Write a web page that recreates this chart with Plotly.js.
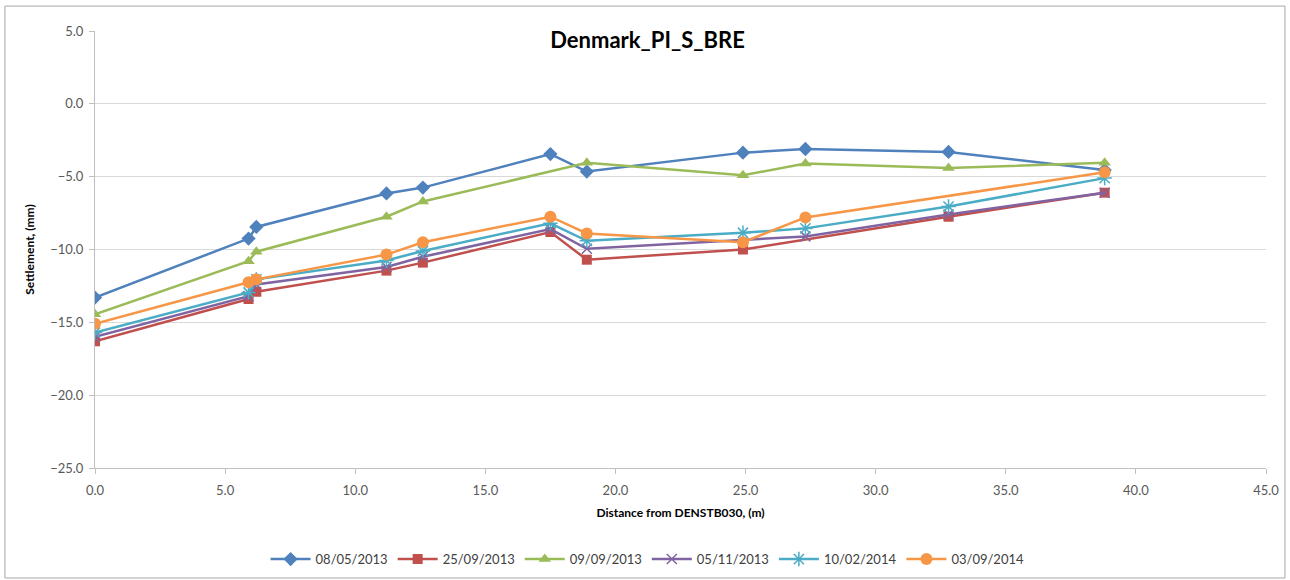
<!DOCTYPE html>
<html>
<head>
<meta charset="utf-8">
<script src="https://cdn.plot.ly/plotly-3.0.1.min.js"></script>
<style>html,body{margin:0;padding:0;background:#fff}#chart{width:1290px;height:580px}</style>
</head>
<body>
<div id="chart"></div>
<script>
const seriesNames = ["08/05/2013", "25/09/2013", "09/09/2013", "05/11/2013", "10/02/2014", "03/09/2014"];

const x_0805_2013 = [0.0, 5.9, 6.2, 11.2, 12.6, 17.5, 18.9, 24.9, 27.3, 32.8, 38.8];
const y_0805_2013 = [-13.3, -9.25, -8.45, -6.15, -5.75, -3.45, -4.65, -3.35, -3.1, -3.3, -4.55];

const x_2509_2013 = [0.0, 5.9, 6.2, 11.2, 12.6, 17.5, 18.9, 24.9, 32.8, 38.8];
const y_2509_2013 = [-16.3, -13.4, -12.9, -11.45, -10.9, -8.8, -10.7, -10.0, -7.75, -6.1];

const x_0909_2013 = [0.0, 5.9, 6.2, 11.2, 12.6, 18.9, 24.9, 27.3, 32.8, 38.8];
const y_0909_2013 = [-14.45, -10.8, -10.15, -7.75, -6.7, -4.05, -4.9, -4.1, -4.4, -4.05];

const x_0511_2013 = [0.0, 5.9, 6.2, 11.2, 12.6, 17.5, 18.9, 27.3, 32.8, 38.8];
const y_0511_2013 = [-16.0, -13.2, -12.4, -11.2, -10.5, -8.6, -9.95, -9.1, -7.6, -6.1];

const x_1002_2014 = [0.0, 5.9, 6.2, 11.2, 12.6, 17.5, 18.9, 24.9, 27.3, 32.8, 38.8];
const y_1002_2014 = [-15.7, -12.95, -12.05, -10.75, -10.1, -8.2, -9.4, -8.85, -8.55, -7.05, -5.1];

const x_0309_2014 = [0.0, 5.9, 6.2, 11.2, 12.6, 17.5, 18.9, 24.9, 27.3, 38.8];
const y_0309_2014 = [-15.1, -12.25, -12.05, -10.35, -9.5, -7.75, -8.9, -9.5, -7.8, -4.7];

const xs = [x_0805_2013, x_2509_2013, x_0909_2013, x_0511_2013, x_1002_2014, x_0309_2014];
const ys = [y_0805_2013, y_2509_2013, y_0909_2013, y_0511_2013, y_1002_2014, y_0309_2014];

const colors = ["#4F81BD", "#C0504D", "#9BBB59", "#8064A2", "#4BACC6", "#F79646"];
const symbols = ["diamond", "square", "triangle-up", "x-thin-open", "asterisk-open", "circle"];
const sizes = [11, 10, 11, 10, 12, 12];

const traces = seriesNames.map((name, i) => ({
  type: "scatter",
  mode: "lines+markers",
  name: name,
  x: xs[i],
  y: ys[i],
  line: {color: colors[i], width: 2.5},
  marker: {symbol: symbols[i], size: sizes[i], color: colors[i],
           line: {color: colors[i], width: (symbols[i].indexOf("open") >= 0) ? 1.5 : 0}}
}));

const layout = {
  width: 1290, height: 580,
  paper_bgcolor: "#ffffff", plot_bgcolor: "#ffffff",
  margin: {l: 95, r: 24, t: 31, b: 112},
  font: {family: "Lato, 'Open Sans', sans-serif", color: "#595959"},
  title: {text: "<b>Denmark_PI_S_BRE</b>", font: {size: 22, color: "#000000", family: "Lato, 'Open Sans', sans-serif"},
          x: 0.502, xref: "container", xanchor: "center", y: 0.931, yref: "container", yanchor: "middle"},
  xaxis: {
    range: [0, 45], tick0: 0, dtick: 5, tickformat: ".1f",
    showgrid: false, zeroline: false,
    showline: true, linecolor: "#bfbfbf", linewidth: 1,
    ticks: "outside", ticklen: 5, tickcolor: "#bfbfbf",
    ticklabelstandoff: 5,
    tickfont: {size: 13, color: "#595959"},
    title: {text: "<b>Distance from DENSTB030, (m)</b>", font: {size: 12, color: "#000000"}, standoff: 12}
  },
  yaxis: {
    range: [-25, 5], tick0: -25, dtick: 5, tickformat: ".1f",
    showgrid: true, gridcolor: "#d9d9d9", gridwidth: 1, zeroline: false,
    showline: true, linecolor: "#bfbfbf", linewidth: 1,
    ticks: "outside", ticklen: 5, tickcolor: "#bfbfbf",
    ticklabelstandoff: 3,
    tickfont: {size: 13, color: "#595959"},
    title: {text: "<b>Settlement, (mm)</b>", font: {size: 12, color: "#000000"}, standoff: 12}
  },
  showlegend: true,
  legend: {orientation: "h", xref: "container", yref: "container", x: 0.502, xanchor: "center",
           y: 0.036, yanchor: "middle", font: {size: 13, color: "#404040"}, itemwidth: 40,
           tracegroupgap: 0, bgcolor: "rgba(0,0,0,0)"},
  shapes: [{type: "rect", xref: "paper", yref: "paper", x0: -0.0769, x1: 1.0162, y0: -0.2517, y1: 1.057,
            line: {color: "#a6a6a6", width: 1}, fillcolor: "rgba(0,0,0,0)", layer: "below"}]
};

Plotly.newPlot("chart", traces, layout, {displayModeBar: false, staticPlot: true});
</script>
</body>
</html>
